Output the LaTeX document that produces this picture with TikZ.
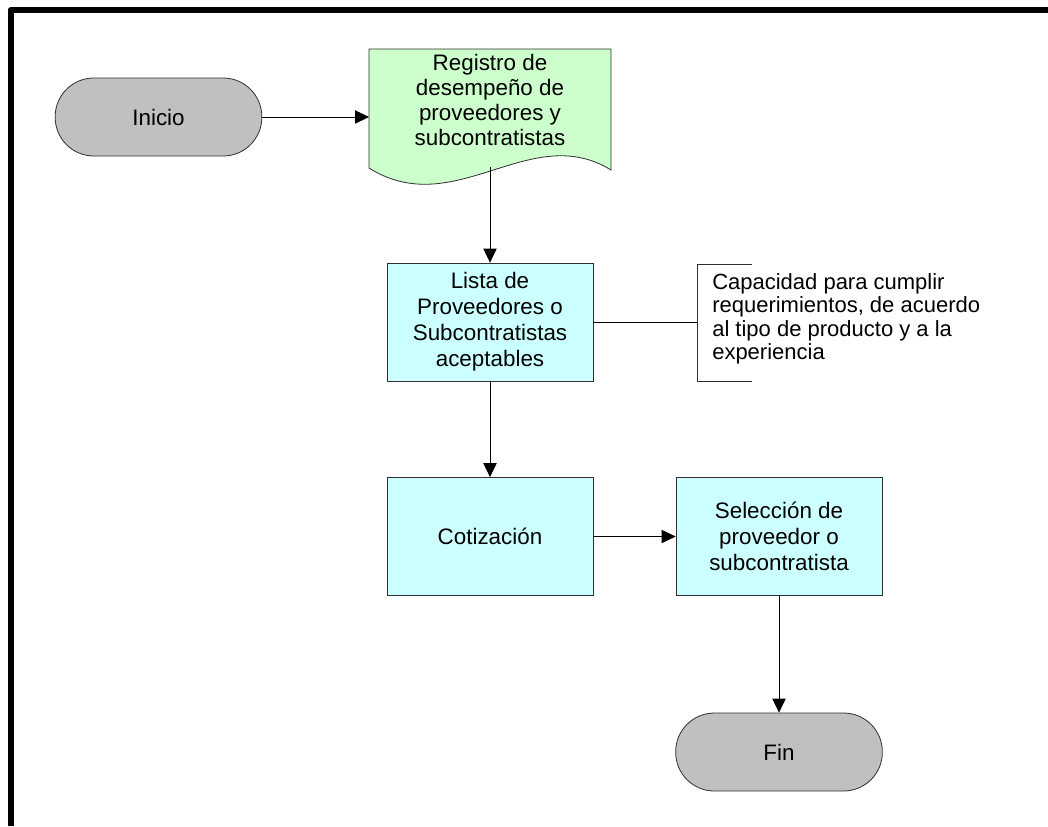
\documentclass[tikz,border=0pt]{standalone}
\usepackage{fontspec}
\setmainfont{Liberation Sans}
\usetikzlibrary{arrows.meta}
\definecolor{termgray}{HTML}{C0C0C0}
\definecolor{docgreen}{HTML}{CCFFCC}
\definecolor{boxcyan}{HTML}{CCFFFF}
\definecolor{edge}{HTML}{303030}
\tikzset{
  txt/.style={font=\fontsize{16.8pt}{19.5pt}\selectfont, align=center},
  terminal/.style={txt, draw=edge, fill=termgray, line width=0.6pt, rounded corners=29pt,
    minimum width=155pt, minimum height=58.5pt, inner sep=0pt},
  procbox/.style={txt, draw=edge, fill=boxcyan, line width=0.6pt,
    minimum width=154.5pt, minimum height=88.5pt, inner sep=0pt},
  conn/.style={draw=black, line width=0.6pt},
  arr/.style={conn, -{Triangle[length=10.5pt,width=10pt]}},
}
\begin{document}
\begin{tikzpicture}[x=0.75pt,y=-0.75pt]
\useasboundingbox (0,0) rectangle (1048,826);
% frame
\draw[line width=4.5pt, line join=round] (10.5,826) -- (10.5,10) -- (1048,10);
% nodes
\node[terminal] (inicio) at (158.5,117) {Inicio};
% document shape
\draw[draw=edge, fill=docgreen, line width=0.6pt]
  (369,49) -- (611,49) -- (611,170)
  .. controls (530,120) and (455,222) .. (369,168) -- cycle;
\node[txt, font=\fontsize{16.8pt}{18.9pt}\selectfont, inner sep=0pt] (reg) at (490,100) {Registro de\\desempeño de\\proveedores y\\subcontratistas};
\coordinate (regleft) at (369,117);
\coordinate (regbot) at (490,167);
\node[procbox] (lista) at (490,322) {Lista de\\Proveedores o\\Subcontratistas\\aceptables};
\node[procbox] (coti) at (490,536.5) {Cotización};
\node[procbox] (sel) at (779,536.5) {Selección de\\proveedor o\\subcontratista};
\node[terminal] (fin) at (779,752) {Fin};
% annotation
\draw[draw=edge, line width=0.6pt] (752,264) -- (697,264) -- (697,381) -- (752,381);
\coordinate (annot) at (697,322);
\node[txt, font=\fontsize{16.5pt}{17.6pt}\selectfont, align=left, anchor=west, inner sep=0pt] (note) at (712,319)
  {Capacidad para cumplir\\requerimientos, de acuerdo\\al tipo de producto y a la\\experiencia};
% connectors
\draw[arr] (inicio.east) -- (regleft);
\draw[arr] (regbot) -- (lista.north);
\draw[conn] (lista.east) -- (annot);
\draw[arr] (lista.south) -- (coti.north);
\draw[arr] (coti.east) -- (sel.west);
\draw[arr] (sel.south) -- (fin.north);
\end{tikzpicture}
\end{document}
